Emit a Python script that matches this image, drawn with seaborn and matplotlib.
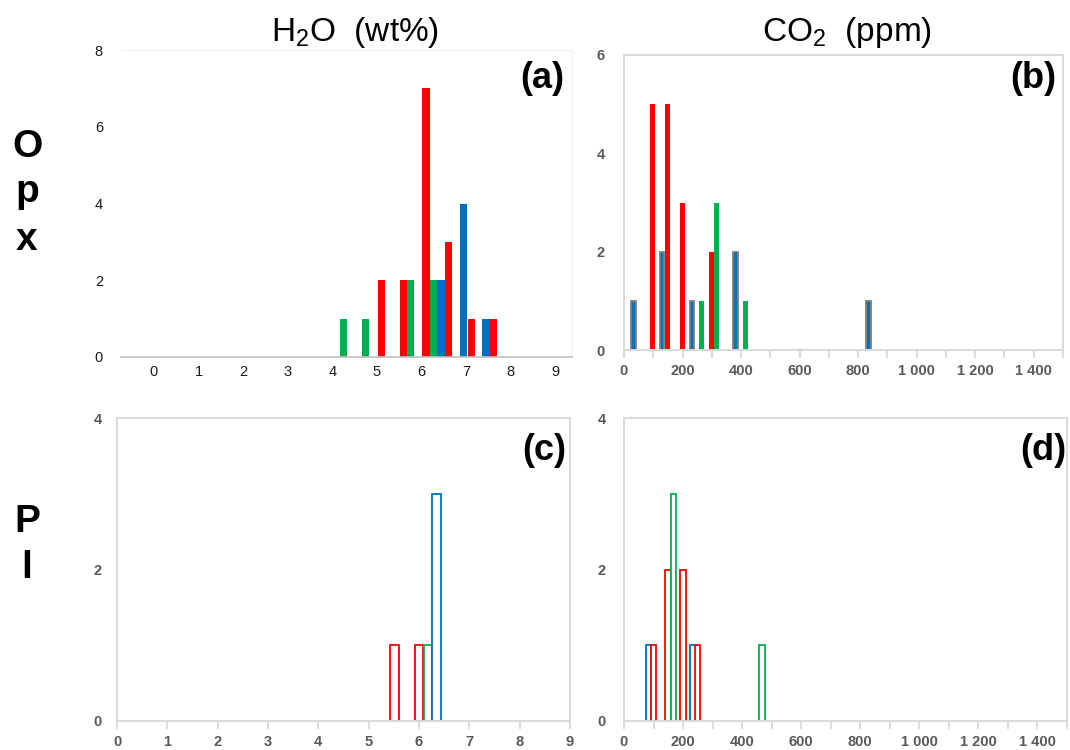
import numpy as np
import seaborn as sns
import matplotlib.pyplot as plt
from matplotlib.ticker import MultipleLocator, FuncFormatter

# ==========================================
# DATA
# ==========================================
# (a) Opx - H2O (wt%)
h2o_opx_red_x = [5.1, 5.6, 6.1, 6.61, 7.12, 7.61]
h2o_opx_red_n = [2, 2, 7, 3, 1, 1]
h2o_opx_green_x = [4.25, 4.75, 5.76, 6.27]
h2o_opx_green_n = [1, 1, 2, 2]
h2o_opx_blue_x = [6.44, 6.95, 7.45]
h2o_opx_blue_n = [2, 4, 1]

# (b) Opx - CO2 (ppm)
co2_opx_red_x = [98, 149, 199, 298]
co2_opx_red_n = [5, 5, 3, 2]
co2_opx_green_x = [266, 315, 415]
co2_opx_green_n = [1, 3, 1]
co2_opx_blue_x = [32, 130, 232, 381, 835]
co2_opx_blue_n = [1, 2, 1, 2, 1]

# (c) Pl - H2O (wt%)
h2o_pl_red_x = [5.51, 6.0]
h2o_pl_red_n = [1, 1]
h2o_pl_green_x = [6.18]
h2o_pl_green_n = [1]
h2o_pl_blue_x = [6.35]
h2o_pl_blue_n = [3]

# (d) Pl - CO2 (ppm)
co2_pl_blue_x = [84, 234]
co2_pl_blue_n = [1, 1]
co2_pl_red_x = [100, 149, 200, 250]
co2_pl_red_n = [1, 2, 2, 1]
co2_pl_green_x = [167, 467]
co2_pl_green_n = [3, 1]

RED = '#FF0000'
GREEN = '#00B050'
BLUE = '#0070C0'
GRAY = '#7F7F7F'

# ==========================================
# STYLE
# ==========================================
sns.set_style("white")
plt.rcParams['font.family'] = ['Liberation Sans', 'DejaVu Sans']
plt.rcParams['mathtext.default'] = 'regular'
plt.rcParams['text.color'] = 'black'


def draw_bars(ax, xs, counts, color, width, hollow=False, edge=None, lw=0.0):
    # bars through seaborn on a native numeric axis, then fix the bar width
    n0 = len(ax.patches)
    sns.barplot(x=xs, y=counts, native_scale=True, color=color, saturation=1,
                errorbar=None, ax=ax)
    for p in ax.patches[n0:]:
        cx = p.get_x() + p.get_width() / 2
        p.set_width(width)
        p.set_x(cx - width / 2)
        if hollow:
            p.set_facecolor('white')
            p.set_edgecolor(color)
            p.set_linewidth(lw)
        elif edge is not None:
            p.set_edgecolor(edge)
            p.set_linewidth(lw)
        else:
            p.set_linewidth(0)


def frame(ax, color='#D9D9D9'):
    for s in ax.spines.values():
        s.set_visible(True)
        s.set_color(color)
        s.set_linewidth(1.4)


def thousands(v, pos):
    return f"{int(v):,}".replace(',', ' ')


fig = plt.figure(figsize=(10.7, 7.5), dpi=100)
W, H = 1070, 750


def add_axes(x0, x1, ytop, ybot):
    return fig.add_axes([x0 / W, 1 - ybot / H, (x1 - x0) / W, (ybot - ytop) / H])


# ==========================================
# (a) Opx H2O
# ==========================================
ax_a = add_axes(121, 572, 50, 357)
draw_bars(ax_a, h2o_opx_red_x, h2o_opx_red_n, RED, 0.168)
draw_bars(ax_a, h2o_opx_green_x, h2o_opx_green_n, GREEN, 0.168)
draw_bars(ax_a, h2o_opx_blue_x, h2o_opx_blue_n, BLUE, 0.168)
ax_a.set_xlim(-0.74, 9.38)
ax_a.set_ylim(0, 8)
ax_a.set_xticks(range(0, 10))
ax_a.set_yticks([0, 2, 4, 6, 8])
ax_a.spines['left'].set_visible(False)
ax_a.spines['top'].set_color('#EEEEEE')
ax_a.spines['right'].set_color('#EEEEEE')
ax_a.spines['bottom'].set_color('#BFBFBF')
ax_a.spines['bottom'].set_linewidth(1.2)
ax_a.tick_params(axis='both', length=0, labelsize=10.5, labelcolor='#1A1A1A')
ax_a.tick_params(axis='x', pad=6)
ax_a.tick_params(axis='y', pad=13)

# ==========================================
# (b) Opx CO2
# ==========================================
ax_b = add_axes(624, 1063, 55, 350)
draw_bars(ax_b, co2_opx_red_x, co2_opx_red_n, RED, 17)
draw_bars(ax_b, co2_opx_green_x, co2_opx_green_n, GREEN, 17)
draw_bars(ax_b, co2_opx_blue_x, co2_opx_blue_n, BLUE, 16, edge=GRAY, lw=1.3)
ax_b.set_xlim(0, 1500)
ax_b.set_ylim(0, 6)
ax_b.set_yticks([0, 2, 4, 6])

# ==========================================
# (c) Pl H2O
# ==========================================
ax_c = add_axes(117, 570, 418, 721)
draw_bars(ax_c, h2o_pl_red_x, h2o_pl_red_n, RED, 0.17, hollow=True, lw=1.3)
draw_bars(ax_c, h2o_pl_green_x, h2o_pl_green_n, GREEN, 0.17, hollow=True, lw=1.3)
draw_bars(ax_c, h2o_pl_blue_x, h2o_pl_blue_n, BLUE, 0.17, hollow=True, lw=1.3)
ax_c.set_xlim(0, 9)
ax_c.set_ylim(0, 4)
ax_c.set_xticks(range(0, 10))
ax_c.set_yticks([0, 2, 4])

# ==========================================
# (d) Pl CO2
# ==========================================
ax_d = add_axes(624, 1067, 418, 721)
draw_bars(ax_d, co2_pl_blue_x, co2_pl_blue_n, BLUE, 18, hollow=True, lw=1.3)
draw_bars(ax_d, co2_pl_red_x, co2_pl_red_n, RED, 18, hollow=True, lw=1.3)
draw_bars(ax_d, co2_pl_green_x, co2_pl_green_n, GREEN, 18, hollow=True, lw=1.3)
ax_d.set_xlim(0, 1500)
ax_d.set_ylim(0, 4)
ax_d.set_yticks([0, 2, 4])

for ax in [ax_b, ax_d]:
    ax.xaxis.set_major_locator(MultipleLocator(200))
    ax.xaxis.set_minor_locator(MultipleLocator(100))
    ax.xaxis.set_major_formatter(FuncFormatter(thousands))

for ax in [ax_b, ax_c, ax_d]:
    frame(ax)
    ax.set_xlabel('')
    ax.set_ylabel('')
    ax.tick_params(axis='x', which='both', direction='out', length=6, width=1.4,
                   color='#D9D9D9', pad=4, bottom=True)
    ax.tick_params(axis='y', length=0)
    ax.tick_params(axis='both', labelsize=10.5, labelcolor='#595959')
    for lab in ax.get_xticklabels() + ax.get_yticklabels():
        lab.set_fontweight('bold')

ax_b.tick_params(axis='y', pad=14)
ax_c.tick_params(axis='y', pad=11)
ax_d.tick_params(axis='y', pad=13)
ax_a.set_xlabel('')
ax_a.set_ylabel('')

# ==========================================
# TEXT
# ==========================================
fig.text(355 / W, 1 - 33 / H, 'H$_2$O  (wt%)', fontsize=24, ha='center', va='center', color='black')
fig.text(847 / W, 1 - 33 / H, 'CO$_2$  (ppm)', fontsize=24, ha='center', va='center', color='black')

for lab, x, y in [('(a)', 564, 78), ('(b)', 1056, 78), ('(c)', 566, 450), ('(d)', 1066, 450)]:
    fig.text(x / W, 1 - y / H, lab, fontsize=26, fontweight='bold', ha='right', va='center',
             color='black')

for ch, y in [('O', 147), ('p', 192), ('x', 240)]:
    fig.text(27 / W, 1 - y / H, ch, fontsize=28, fontweight='bold', ha='center', va='center',
             color='black')
for ch, y in [('P', 522), ('l', 568)]:
    fig.text(27 / W, 1 - y / H, ch, fontsize=28, fontweight='bold', ha='center', va='center',
             color='black')

plt.savefig('out.png', dpi=100)
